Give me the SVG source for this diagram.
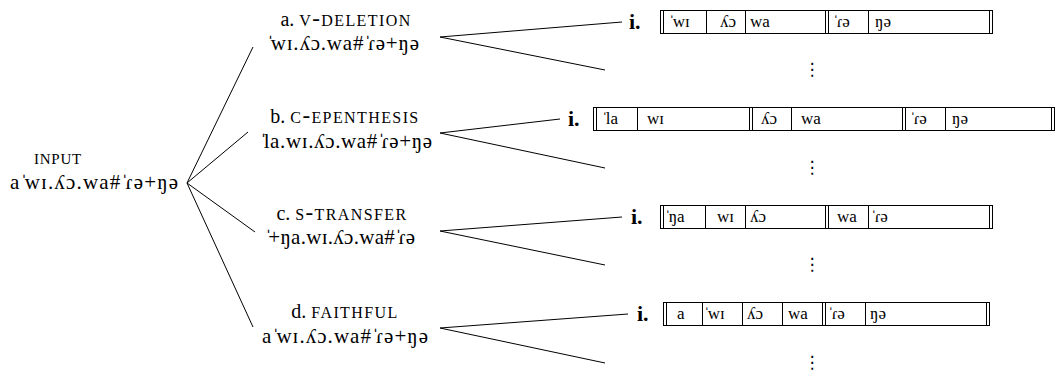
<svg xmlns="http://www.w3.org/2000/svg" width="1056" height="375" viewBox="0 0 1056 375">
<style>
text{font-family:"Liberation Serif","Noto Sans","DejaVu Serif",serif;fill:#000}
.lab{font-size:20px;text-anchor:middle}
.str{font-size:21px}
.sc{font-variant:small-caps;font-size:23px;letter-spacing:1.4px}
.sc2{font-variant:small-caps;font-size:21px;letter-spacing:0.8px}
.cell{font-size:17px}
.st{letter-spacing:-4px}
.cell .st{letter-spacing:-2px}
.num{font-size:22px;font-weight:bold}
.dots{font-family:"DejaVu Sans",sans-serif;font-size:17px;text-anchor:middle}
line{stroke:#000;stroke-width:1}
.bx{fill:none;stroke:#000;stroke-width:1}
</style>
<g id="connectors">
<line x1="187" y1="183" x2="253" y2="47"/>
<line x1="187" y1="183" x2="248" y2="132"/>
<line x1="187" y1="183" x2="255" y2="232"/>
<line x1="187" y1="183" x2="253" y2="327"/>
<line x1="440" y1="37" x2="622" y2="22"/>
<line x1="440" y1="37" x2="605" y2="70"/>
<line x1="440" y1="133" x2="560" y2="119"/>
<line x1="440" y1="133" x2="605" y2="168"/>
<line x1="440" y1="231" x2="622" y2="217"/>
<line x1="440" y1="231" x2="605" y2="265"/>
<line x1="440" y1="328" x2="628" y2="314"/>
<line x1="440" y1="328" x2="605" y2="363"/>
</g>
<g id="input">
<text x="58" y="164" class="lab"><tspan class="sc2">input</tspan></text>
<text x="94" y="189" class="lab str" textLength="168" lengthAdjust="spacing">a<tspan class="st">ˈ</tspan>wɪ.ʎɔ.wa#<tspan class="st">ˈ</tspan>ɾə+ŋə</text>
</g>
<g id="node-a">
<text x="346" y="26" class="lab">a. <tspan class="sc">v-deletion</tspan></text>
<text x="343" y="50" class="lab str" textLength="152" lengthAdjust="spacing"><tspan class="st">ˈ</tspan>wɪ.ʎɔ.wa#<tspan class="st">ˈ</tspan>ɾə+ŋə</text>
</g>
<g id="node-b">
<text x="345" y="123" class="lab">b. <tspan class="sc">c-epenthesis</tspan></text>
<text x="346" y="148" class="lab str" textLength="172" lengthAdjust="spacing"><tspan class="st">ˈ</tspan>la.wɪ.ʎɔ.wa#<tspan class="st">ˈ</tspan>ɾə+ŋə</text>
</g>
<g id="node-c">
<text x="342" y="220" class="lab">c. <tspan class="sc">s-transfer</tspan></text>
<text x="340" y="244" class="lab str" textLength="150" lengthAdjust="spacing"><tspan class="st">ˈ</tspan>+ŋa.wɪ.ʎɔ.wa#<tspan class="st">ˈ</tspan>ɾə</text>
</g>
<g id="node-d">
<text x="345" y="318" class="lab">d. <tspan class="sc">faithful</tspan></text>
<text x="345" y="343" class="lab str" textLength="166" lengthAdjust="spacing">a<tspan class="st">ˈ</tspan>wɪ.ʎɔ.wa#<tspan class="st">ˈ</tspan>ɾə+ŋə</text>
</g>
<g id="cand-a">
<text x="629" y="29" class="num">i.</text>
<rect x="660.5" y="10.5" width="332" height="23" class="bx"/>
<line x1="663.5" y1="10.5" x2="663.5" y2="33.5"/>
<line x1="706.5" y1="10.5" x2="706.5" y2="33.5"/>
<line x1="745.5" y1="10.5" x2="745.5" y2="33.5"/>
<line x1="825.5" y1="10.5" x2="825.5" y2="33.5"/>
<line x1="828.5" y1="10.5" x2="828.5" y2="33.5"/>
<line x1="868.5" y1="10.5" x2="868.5" y2="33.5"/>
<line x1="989.5" y1="10.5" x2="989.5" y2="33.5"/>
<text x="669" y="27" class="cell"><tspan class="st">ˈ</tspan>wɪ</text>
<text x="720" y="27" class="cell">ʎɔ</text>
<text x="750" y="27" class="cell">wa</text>
<text x="833" y="27" class="cell"><tspan class="st">ˈ</tspan>ɾə</text>
<text x="875" y="27" class="cell">ŋə</text>
<text x="812" y="75" class="dots">⋮</text>
</g>
<g id="cand-b">
<text x="568" y="126" class="num">i.</text>
<rect x="593.5" y="107.5" width="461" height="23" class="bx"/>
<line x1="596.5" y1="107.5" x2="596.5" y2="130.5"/>
<line x1="637.5" y1="107.5" x2="637.5" y2="130.5"/>
<line x1="749.5" y1="107.5" x2="749.5" y2="130.5"/>
<line x1="752.5" y1="107.5" x2="752.5" y2="130.5"/>
<line x1="791.5" y1="107.5" x2="791.5" y2="130.5"/>
<line x1="902.5" y1="107.5" x2="902.5" y2="130.5"/>
<line x1="905.5" y1="107.5" x2="905.5" y2="130.5"/>
<line x1="945.5" y1="107.5" x2="945.5" y2="130.5"/>
<line x1="1051.5" y1="107.5" x2="1051.5" y2="130.5"/>
<text x="602" y="124" class="cell"><tspan class="st">ˈ</tspan>la</text>
<text x="647" y="124" class="cell">wɪ</text>
<text x="761" y="124" class="cell">ʎɔ</text>
<text x="801" y="124" class="cell">wa</text>
<text x="910" y="124" class="cell"><tspan class="st">ˈ</tspan>ɾə</text>
<text x="952" y="124" class="cell">ŋə</text>
<text x="812" y="173" class="dots">⋮</text>
</g>
<g id="cand-c">
<text x="631" y="224" class="num">i.</text>
<rect x="660.5" y="205.5" width="332" height="23" class="bx"/>
<line x1="663.5" y1="205.5" x2="663.5" y2="228.5"/>
<line x1="705.5" y1="205.5" x2="705.5" y2="228.5"/>
<line x1="745.5" y1="205.5" x2="745.5" y2="228.5"/>
<line x1="825.5" y1="205.5" x2="825.5" y2="228.5"/>
<line x1="828.5" y1="205.5" x2="828.5" y2="228.5"/>
<line x1="868.5" y1="205.5" x2="868.5" y2="228.5"/>
<line x1="989.5" y1="205.5" x2="989.5" y2="228.5"/>
<text x="665" y="222" class="cell"><tspan class="st">ˈ</tspan>ŋa</text>
<text x="717" y="222" class="cell">wɪ</text>
<text x="750" y="222" class="cell">ʎɔ</text>
<text x="837" y="222" class="cell">wa</text>
<text x="871" y="222" class="cell"><tspan class="st">ˈ</tspan>ɾə</text>
<text x="812" y="270" class="dots">⋮</text>
</g>
<g id="cand-d">
<text x="637" y="321" class="num">i.</text>
<rect x="663.5" y="302.5" width="326" height="23" class="bx"/>
<line x1="666.5" y1="302.5" x2="666.5" y2="325.5"/>
<line x1="702.5" y1="302.5" x2="702.5" y2="325.5"/>
<line x1="742.5" y1="302.5" x2="742.5" y2="325.5"/>
<line x1="782.5" y1="302.5" x2="782.5" y2="325.5"/>
<line x1="822.5" y1="302.5" x2="822.5" y2="325.5"/>
<line x1="825.5" y1="302.5" x2="825.5" y2="325.5"/>
<line x1="865.5" y1="302.5" x2="865.5" y2="325.5"/>
<line x1="986.5" y1="302.5" x2="986.5" y2="325.5"/>
<text x="677" y="319" class="cell">a</text>
<text x="704" y="319" class="cell"><tspan class="st">ˈ</tspan>wɪ</text>
<text x="747" y="319" class="cell">ʎɔ</text>
<text x="788" y="319" class="cell">wa</text>
<text x="828" y="319" class="cell"><tspan class="st">ˈ</tspan>ɾə</text>
<text x="870" y="319" class="cell">ŋə</text>
<text x="812" y="368" class="dots">⋮</text>
</g>
</svg>
